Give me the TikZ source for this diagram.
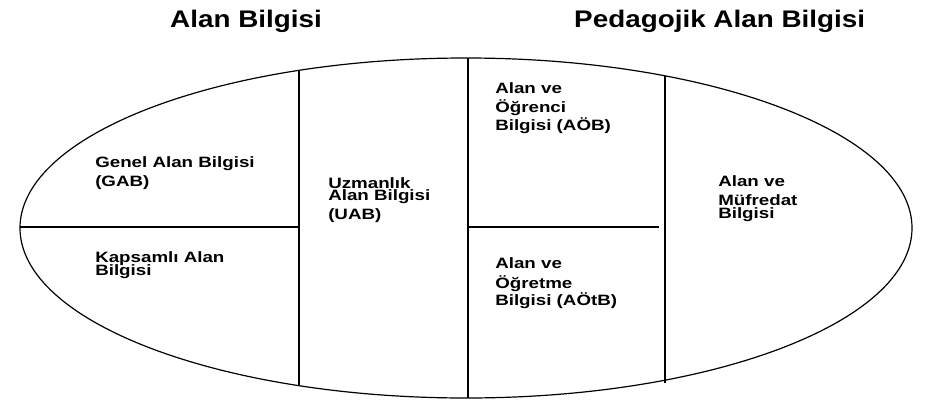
\documentclass[tikz,border=0pt]{standalone}
\usepackage{fontspec}
\setmainfont{Liberation Sans}
\begin{document}
\begin{tikzpicture}[x=1pt,y=-1pt,
  outline/.style={line width=1.2pt},
  divider/.style={line width=1.5pt},
  title/.style={font=\fontsize{24}{28}\selectfont\bfseries, inner sep=0pt, anchor=base west, xscale=1.16},
  txt/.style={font=\fontsize{15}{18}\selectfont\bfseries, inner sep=0pt, anchor=base west, xscale=1.25},
  flat/.style={text depth=0pt}]
\useasboundingbox (0,0) rectangle (928,407);
% ellipse
\coordinate (c) at (466,228);
\draw[outline] (c) ellipse [x radius=446pt, y radius=170pt];
% dividers
\coordinate (v1t) at (299,70.5);  \coordinate (v1b) at (299,385);
\coordinate (v2t) at (468,58);    \coordinate (v2b) at (468,398);
\coordinate (v3t) at (665,76);    \coordinate (v3b) at (665,383);
\coordinate (h1l) at (20,227);    \coordinate (h1r) at (299,227);
\coordinate (h2l) at (468,227);   \coordinate (h2r) at (659,227);
\draw[divider] (v1t) -- (v1b);
\draw[divider] (v2t) -- (v2b);
\draw[divider] (v3t) -- (v3b);
\draw[outline] (h1l) -- (h1r);
\draw[outline] (h2l) -- (h2r);
% titles
\node[title] (ta) at (170,27) {Alan Bilgisi};
\node[title] (tp) at (574,27) {Pedagojik Alan Bilgisi};
% left column
\node[txt] (g1) at (95,167) {Genel Alan Bilgisi};
\node[txt] (g2) at (95,186) {(GAB)};
\node[txt,flat] (k1) at (95,262) {Kapsamlı Alan};
\node[txt] (k2) at (95,275) {Bilgisi};
% UAB
\node[txt,flat] (u1) at (328,188) {Uzmanlık};
\node[txt] (u2) at (328,200.5) {Alan Bilgisi};
\node[txt] (u3) at (328,219) {(UAB)};
% AÖB
\node[txt] (a1) at (495,93) {Alan ve};
\node[txt] (a2) at (495,112) {Öğrenci};
\node[txt] (a3) at (495,130) {Bilgisi (AÖB)};
% AÖtB
\node[txt] (b1) at (495,268) {Alan ve};
\node[txt] (b2) at (495,288) {Öğretme};
\node[txt] (b3) at (495,305) {Bilgisi (AÖtB)};
% Müfredat
\node[txt] (m1) at (718,186) {Alan ve};
\node[txt,flat] (m2) at (718,205) {Müfredat};
\node[txt] (m3) at (718,218) {Bilgisi};
\end{tikzpicture}
\end{document}
